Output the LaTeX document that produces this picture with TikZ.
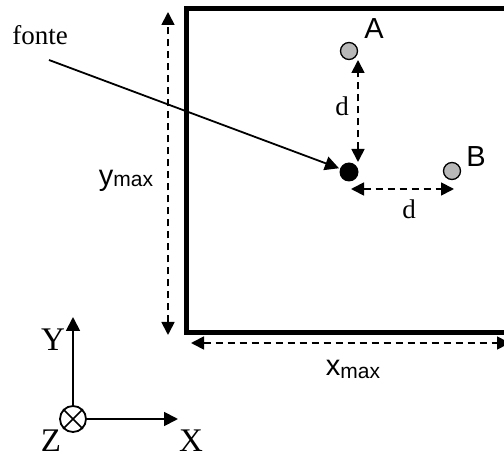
\documentclass[tikz,border=0pt]{standalone}
\usepackage{fontspec}
\setmainfont{Liberation Serif}
\newfontfamily\sansf{Liberation Sans}
\usetikzlibrary{arrows.meta}
\tikzset{
  tipA/.tip={Triangle[length=14pt,width=14pt]},
  tipD/.tip={Triangle[length=13pt,width=13pt]},
  solidarrow/.style={line width=1.8pt,-{tipA}},
  dasharrow/.style={line width=1.8pt,dash pattern=on 7pt off 5pt,{tipD}-{tipD}},
  greydot/.style={circle,draw=black,line width=1.3pt,fill=black!28,minimum size=17pt,inner sep=0pt},
  blackdot/.style={circle,fill=black,minimum size=19pt,inner sep=0pt},
  serlab/.style={inner sep=0pt,font=\fontsize{33}{33}\selectfont},
  dlab/.style={inner sep=0pt,font=\fontsize{27}{27}\selectfont},
  sanslab/.style={inner sep=0pt,font=\sansf\fontsize{29}{29}\selectfont},
}
\newcommand{\maxsub}[1]{\raisebox{#1}{\fontsize{21}{21}\selectfont max}}
\begin{document}
\begin{tikzpicture}[x=1pt,y=-1pt]
\useasboundingbox (0,0) rectangle (504,457);
% box
\draw[line width=5pt] (510,9) -- (186,9) -- (186,332.5) -- (510,332.5);
% ymax / xmax dimension arrows
\coordinate (ytop) at (168,12);
\coordinate (ybot) at (168,335);
\draw[dasharrow] (ybot) -- (ytop);
\node[sanslab,anchor=base] (ymaxlab) at (126,186) {y\maxsub{-1pt}};
\coordinate (xleft) at (191,343);
\coordinate (xright) at (510,343);
\draw[dasharrow] (xleft) -- (xright);
\node[sanslab,anchor=base] (xmaxlab) at (353,376) {x\maxsub{-3pt}};
% points
\node[blackdot] (src) at (349,172) {};
\node[greydot] (A) at (349,51) {};
\node[greydot] (B) at (452,171) {};
\node[sanslab] (Alab) at (374,29) {A};
\node[sanslab] (Blab) at (476,157) {B};
% fonte arrow
\node[anchor=base,inner sep=0pt,font=\fontsize{27}{27}\selectfont] (fonte) at (40,45) {fonte};
\coordinate (fstart) at (49,60);
\draw[solidarrow,shorten >=1pt] (fstart) -- (src);
% d arrows
\coordinate (dvt) at (358,60);
\coordinate (dvb) at (358,162);
\draw[dasharrow] (dvb) -- (dvt);
\node[dlab] (d1) at (342,106) {d};
\coordinate (dhl) at (351,189);
\coordinate (dhr) at (454,189);
\draw[dasharrow] (dhl) -- (dhr);
\node[dlab] (d2) at (409,209) {d};
% axes
\node[circle,draw=black,line width=1.8pt,minimum size=26pt,inner sep=0pt] (orig) at (73,419) {};
\draw[line width=1.5pt] (orig.north east) -- (orig.south west) (orig.north west) -- (orig.south east);
\coordinate (ytip) at (73,317);
\coordinate (xtip) at (178,419);
\draw[solidarrow] (orig.north) -- (ytip);
\draw[solidarrow] (orig.east) -- (xtip);
\node[serlab,anchor=base] (Ylab) at (53,351) {Y};
\node[serlab,anchor=base] (Zlab) at (51,451) {Z};
\node[serlab,anchor=base] (Xlab) at (191,451) {X};
\end{tikzpicture}
\end{document}
